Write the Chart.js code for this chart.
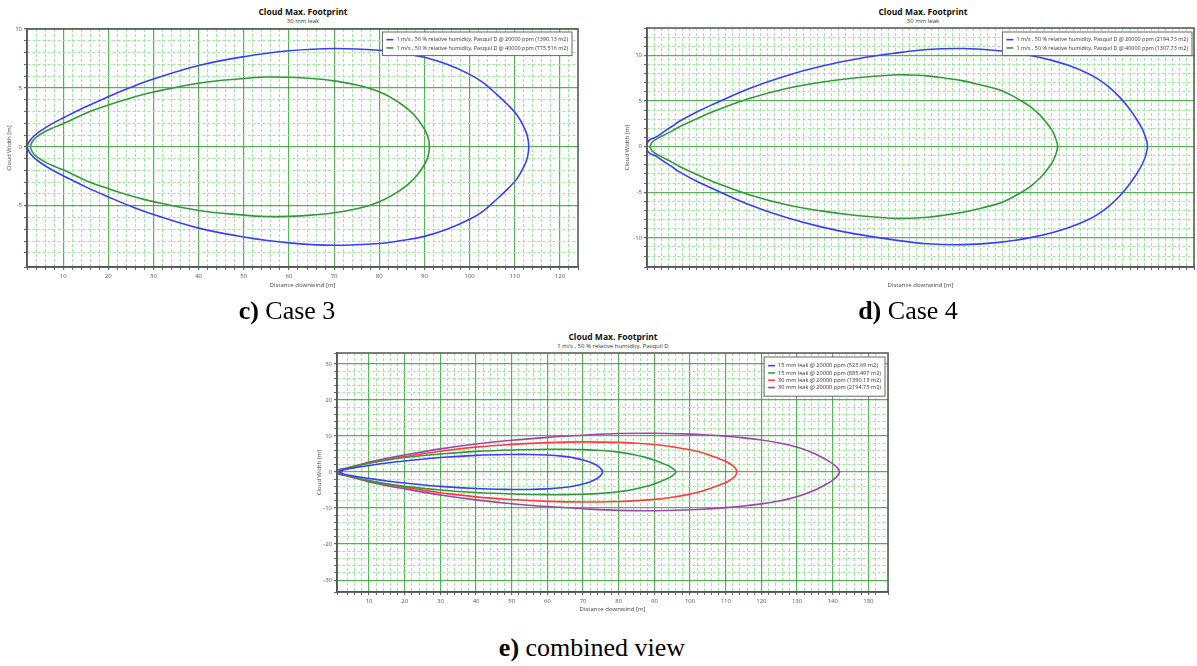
<!DOCTYPE html>
<html>
<head>
<meta charset="utf-8">
<script src="https://cdn.jsdelivr.net/npm/chart.js@4.4.1/dist/chart.umd.min.js"></script>
<style>
  body { margin: 0; background: #fff; width: 1197px; height: 666px; position: relative; overflow: hidden; font-family: 'Open Sans', sans-serif; }
  canvas { position: absolute; }
  .title { position: absolute; transform: translateX(-50%); text-align: center; white-space: nowrap; color: #111; }
  .title b { display: block; font-size: 8.5px; line-height: 10px; }
  .title span { display: block; font-size: 6px; line-height: 8px; color: #333; }
  .caption { position: absolute; transform: translateX(-50%); font-family: 'Liberation Serif', serif; font-size: 26px; line-height: 30px; white-space: nowrap; color: #000; }
</style>
</head>
<body>
<div class="title" style="left:303px;top:7px"><b>Cloud Max. Footprint</b><span>30 mm leak</span></div>
<div class="title" style="left:923px;top:7px"><b>Cloud Max. Footprint</b><span>30 mm leak</span></div>
<div class="title" style="left:613px;top:332px"><b>Cloud Max. Footprint</b><span>1 m/s , 50 % relative humidity, Pasquil D</span></div>

<canvas id="chart-c" width="590" height="292" style="left:0;top:0"></canvas>
<canvas id="chart-d" width="582" height="292" style="left:615px;top:0"></canvas>
<canvas id="chart-e" width="593" height="293" style="left:305px;top:325px"></canvas>

<div class="caption" style="left:287px;top:296px"><b>c)</b> Case 3</div>
<div class="caption" style="left:908px;top:296px"><b>d)</b> Case 4</div>
<div class="caption" style="left:592px;top:633px"><b>e)</b> combined view</div>

<script>
// Case 3 (30 mm leak) - distance downwind [m] and cloud half width [m]
const case3X20k = [2, 2.5, 3.5, 5, 7.5, 10, 15, 20, 25, 30, 40, 50, 60, 70, 80, 85, 90, 95, 100, 103, 106, 108.5, 110.5, 112, 112.8, 113.1];
const case3W20k = [0, 0.45, 0.9, 1.35, 1.95, 2.45, 3.4, 4.25, 5.05, 5.75, 6.9, 7.65, 8.15, 8.35, 8.2, 7.95, 7.6, 7.0, 6.15, 5.45, 4.45, 3.55, 2.7, 1.7, 0.9, 0];
const case3X40k = [2.7, 3.2, 4, 6, 8, 10, 15, 20, 25, 30, 40, 50, 55, 60, 65, 70, 75, 78, 81, 84, 86.5, 88.5, 90, 90.8, 91.1];
const case3W40k = [0, 0.45, 0.8, 1.3, 1.65, 1.95, 2.85, 3.55, 4.15, 4.65, 5.4, 5.8, 5.92, 5.9, 5.8, 5.6, 5.25, 4.95, 4.5, 3.85, 3.15, 2.35, 1.5, 0.8, 0];

// Case 4 (30 mm leak)
const case4X20k = [0.8, 1.2, 2, 3, 4, 6, 8, 10, 15, 20, 30, 40, 50, 60, 70, 80, 90, 100, 105, 110, 115, 120, 125, 128, 131, 134, 136.5, 138.5, 140.2, 141.3, 141.9];
const case4W20k = [0, 0.5, 0.8, 0.95, 1.15, 1.7, 2.2, 2.75, 3.8, 4.7, 6.4, 7.75, 8.8, 9.6, 10.2, 10.65, 10.75, 10.5, 10.25, 9.9, 9.45, 8.85, 8.05, 7.4, 6.55, 5.45, 4.3, 3.2, 2.1, 1.1, 0];
const case4X40k = [1.8, 2.5, 4, 6, 8, 10, 15, 20, 30, 40, 50, 60, 70, 75, 80, 85, 90, 95, 100, 103, 106, 109, 111.5, 113.5, 115, 116, 116.6];
const case4W40k = [0, 0.5, 0.9, 1.3, 1.7, 2.15, 3.05, 3.9, 5.3, 6.35, 7.05, 7.55, 7.85, 7.85, 7.75, 7.5, 7.2, 6.75, 6.25, 5.75, 5.1, 4.35, 3.5, 2.6, 1.8, 0.95, 0];

// 15 mm leak (combined view)
const leak15X523 = [1.5, 2.5, 4, 6, 10, 15, 20, 30, 40, 50, 55, 60, 64, 67.5, 70.5, 73, 74.6, 75.5];
const leak15W523 = [0, 0.5, 0.85, 1.2, 1.8, 2.5, 3.05, 4.0, 4.6, 4.85, 4.85, 4.7, 4.4, 3.9, 3.2, 2.3, 1.3, 0];
const leak15X885 = [1.2, 2, 3.5, 6, 10, 15, 20, 30, 40, 50, 60, 65, 70, 75, 80, 84, 87.5, 90.5, 93, 94.8, 96];
const leak15W885 = [0, 0.5, 0.9, 1.5, 2.4, 3.3, 4.0, 5.0, 5.7, 6.1, 6.3, 6.3, 6.2, 5.95, 5.5, 4.85, 4.05, 3.1, 2.1, 1.2, 0];

// Legend labels
const labelsC = ['1 m/s , 50 % relative humidity, Pasquil D @ 20000 ppm (1390.13 m2)',
                 '1 m/s , 50 % relative humidity, Pasquil D @ 40000 ppm (775.516 m2)'];
const labelsD = ['1 m/s , 50 % relative humidity, Pasquil D @ 20000 ppm (2194.73 m2)',
                 '1 m/s , 50 % relative humidity, Pasquil D @ 40000 ppm (1307.73 m2)'];
const labelsE = ['15 mm leak @ 20000 ppm (523.69 m2)', '15 mm leak @ 20000 ppm (885.497 m2)',
                 '30 mm leak @ 20000 ppm (1390.13 m2)', '30 mm leak @ 20000 ppm (2194.73 m2)'];

const BLUE = '#3c3cff', GREEN = '#33993a', RED = '#ff3c3c', PURPLE = '#a044b0';
const MAJOR_GRID = 'rgba(50,155,50,0.8)';
const MINOR_GRID = '#9fe49f';
const FONT = "'Open Sans', sans-serif";

// closed footprint outline: upper edge out, lower edge back
function outline(xs, ws) {
  const pts = xs.map((x, i) => ({ x: x, y: ws[i] }));
  for (let i = xs.length - 2; i >= 0; i--) pts.push({ x: xs[i], y: -ws[i] });
  return pts;
}

function isMultiple(v, step) {
  const r = v / step;
  return Math.abs(r - Math.round(r)) < 1e-6;
}

function footprint(label, color, xs, ws) {
  return {
    label: label, data: outline(xs, ws), borderColor: color, backgroundColor: color,
    borderWidth: 1.6, pointRadius: 0, tension: 0.4, fill: false
  };
}

// axis with labelled major gridlines and dashed minor ones
function axis(o) {
  const isMajor = c => c.tick && isMultiple(c.tick.value, o.major);
  return {
    type: 'linear', position: o.position, min: o.min, max: o.max,
    afterFit: s => { if (o.position === 'left') s.width = o.size; else s.height = o.size; },
    title: { display: true, text: o.title, color: '#444', font: { size: 6, family: FONT }, padding: o.titlePad },
    ticks: {
      stepSize: o.minor, autoSkip: false, maxRotation: 0, minRotation: 0, padding: o.tickPad,
      color: '#555', font: { size: 6, family: FONT },
      callback: v => isMultiple(v, o.major) ? String(Math.round(v)) : ''
    },
    grid: {
      color: c => isMajor(c) ? MAJOR_GRID : MINOR_GRID,
      lineWidth: c => isMajor(c) ? 1.2 : 1,
      tickLength: 3, tickColor: '#666'
    },
    border: { color: '#555', width: 1.5, dash: c => (c.tick && !isMultiple(c.tick.value, o.major)) ? [3, 2] : [] }
  };
}

// plot frame + boxed legend in the top right of the plot
const frameLegend = {
  id: 'frameLegend',
  afterDraw(chart, args, opts) {
    const { ctx, chartArea: a } = chart;
    ctx.save();
    ctx.strokeStyle = '#555';
    ctx.lineWidth = 1.5;
    ctx.strokeRect(a.left, a.top, a.right - a.left, a.bottom - a.top);

    ctx.font = opts.fontSize + 'px ' + FONT;
    const items = chart.data.datasets;
    const textW = Math.max(...items.map(d => ctx.measureText(d.label).width));
    const w = 4 + opts.lineLen + 3 + textW + 4;
    const h = items.length * opts.rowH + 2 * opts.pad;
    const x = a.right - opts.right - w, y = a.top + opts.top;
    ctx.fillStyle = '#fff';
    ctx.fillRect(x, y, w, h);
    ctx.strokeStyle = '#666';
    ctx.lineWidth = 1;
    ctx.strokeRect(x, y, w, h);
    items.forEach((d, i) => {
      const cy = y + opts.pad + opts.rowH * (i + 0.5);
      ctx.strokeStyle = d.borderColor;
      ctx.lineWidth = 1.6;
      ctx.beginPath();
      ctx.moveTo(x + 4, cy);
      ctx.lineTo(x + 4 + opts.lineLen, cy);
      ctx.stroke();
      ctx.fillStyle = '#333';
      ctx.textBaseline = 'middle';
      ctx.fillText(d.label, x + 4 + opts.lineLen + 3, cy);
    });
    ctx.restore();
  }
};

function makeChart(id, datasets, xOpts, yOpts, padding, legendOpts) {
  return new Chart(document.getElementById(id), {
    type: 'line',
    data: { datasets: datasets },
    options: {
      responsive: false, animation: false, devicePixelRatio: 1,
      layout: { padding: padding },
      elements: { line: { tension: 0.4, capBezierPoints: false } },
      scales: { x: axis(xOpts), y: axis(yOpts) },
      plugins: { legend: { display: false }, tooltip: { enabled: false }, frameLegend: legendOpts }
    },
    plugins: [frameLegend]
  });
}

makeChart('chart-c',
  [footprint(labelsC[0], BLUE, case3X20k, case3W20k), footprint(labelsC[1], GREEN, case3X40k, case3W40k)],
  { position: 'bottom', min: 2, max: 124, minor: 2, major: 10, size: 22, tickPad: 3, title: 'Distance downwind [m]', titlePad: { top: 0, bottom: 0.5 } },
  { position: 'left', min: -10.2, max: 10, minor: 1, major: 5, size: 27, tickPad: 2, title: 'Cloud Width [m]', titlePad: { top: 6, bottom: 0 } },
  { left: 0, top: 29, right: 12, bottom: 3 },
  { right: 6, top: 3, rowH: 8.3, pad: 3.5, lineLen: 7, fontSize: 5.45 });

makeChart('chart-d',
  [footprint(labelsD[0], BLUE, case4X20k, case4W20k), footprint(labelsD[1], GREEN, case4X40k, case4W40k)],
  { position: 'bottom', min: 1, max: 155, minor: 2, major: 10, size: 22, tickPad: 3, title: 'Distance downwind [m]', titlePad: { top: 0, bottom: 0.5 } },
  { position: 'left', min: -13.2, max: 13, minor: 1, major: 5, size: 32, tickPad: 2, title: 'Cloud Width [m]', titlePad: { top: 9, bottom: 0 } },
  { left: 0, top: 28, right: 2, bottom: 3 },
  { right: 2, top: 4, rowH: 8.3, pad: 3.5, lineLen: 7, fontSize: 5.45 });

makeChart('chart-e',
  [footprint(labelsE[0], BLUE, leak15X523, leak15W523), footprint(labelsE[1], GREEN, leak15X885, leak15W885),
   footprint(labelsE[2], RED, case3X20k, case3W20k), footprint(labelsE[3], PURPLE, case4X20k, case4W20k)],
  { position: 'bottom', min: 1, max: 155.5, minor: 2, major: 10, size: 22, tickPad: 3, title: 'Distance downwind [m]', titlePad: { top: 0, bottom: 1.4 } },
  { position: 'left', min: -33.3, max: 33, minor: 2, major: 10, size: 32, tickPad: 2, title: 'Cloud Width [m]', titlePad: { top: 11, bottom: 0 } },
  { left: 0, top: 28, right: 10, bottom: 4 },
  { right: 3, top: 4, rowH: 7.3, pad: 5, lineLen: 7, fontSize: 5.6 });
</script>
</body>
</html>
